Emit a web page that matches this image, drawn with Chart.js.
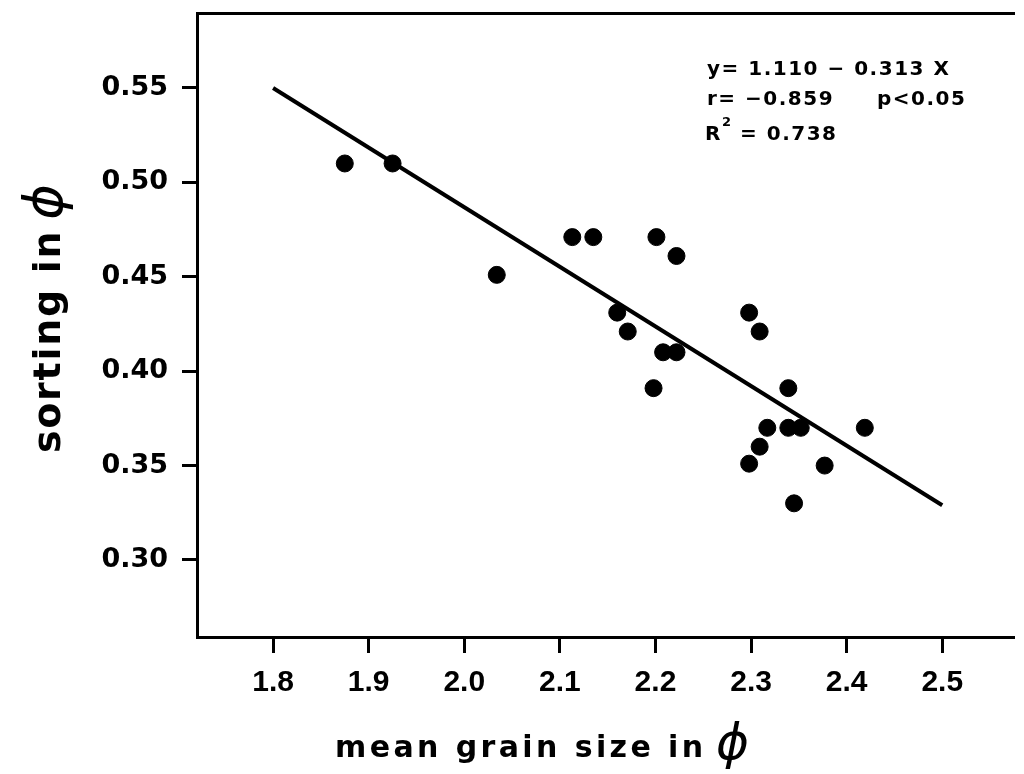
<!DOCTYPE html>
<html>
<head>
<meta charset="utf-8">
<script src="https://cdn.jsdelivr.net/npm/chart.js@4"></script>
<style>
    html, body { margin: 0; padding: 0; background: #fff; }
    #wrap { width: 1024px; height: 774px; }
</style>
</head>
<body>
<div id="wrap"><canvas id="canvas"></canvas></div>
<script>
// mean grain size (phi) and sorting (phi)
var grainSize = [1.875, 1.925, 2.034, 2.113, 2.135, 2.201, 2.222, 2.160, 2.171, 2.208,
    2.222, 2.198, 2.298, 2.309, 2.339, 2.317, 2.339, 2.352, 2.419, 2.309, 2.298, 2.377, 2.345];
var sorting = [0.510, 0.510, 0.451, 0.471, 0.471, 0.471, 0.461, 0.431, 0.421, 0.410,
    0.410, 0.391, 0.431, 0.421, 0.391, 0.370, 0.370, 0.370, 0.370, 0.360, 0.351, 0.350, 0.330];
// regression line end points
var fitX = [1.8, 2.5];
var fitY = [0.550, 0.329];
var xTicks = [1.8, 1.9, 2.0, 2.1, 2.2, 2.3, 2.4, 2.5];
var yTicks = [0.30, 0.35, 0.40, 0.45, 0.50, 0.55];
var xTitle = 'mean grain size in';
var yTitle = 'sorting in';
var phi = '\u03d5';
var statLines = ['y= 1.110 \u2212 0.313 X', 'r= \u22120.859', 'p<0.05', '0.738'];

var points = grainSize.map(function (x, i) { return {x: x, y: sorting[i]}; });
var fitLine = fitX.map(function (x, i) { return {x: x, y: fitY[i]}; });

// axis titles and regression stats, drawn by hand for the spaced lettering
var textPlugin = {
    id: 'texts',
    afterDraw: function (chart) {
        var ctx = chart.ctx;
        ctx.save();
        ctx.fillStyle = '#000';
        ctx.textBaseline = 'alphabetic';

        ctx.letterSpacing = '1.5px';
        ctx.font = 'bold 20px "DejaVu Sans"';
        ctx.fillText(statLines[0], 707, 75);
        ctx.fillText(statLines[1], 707, 105);
        ctx.fillText(statLines[2], 877, 105);
        ctx.fillText('R', 705, 140);
        ctx.fillText('= ' + statLines[3], 740, 140);
        ctx.font = 'bold 13px "DejaVu Sans"';
        ctx.fillText('2', 722, 126);

        ctx.letterSpacing = '3.4px';
        ctx.font = 'bold 30px "DejaVu Sans"';
        ctx.fillText(xTitle, 335, 757);
        ctx.letterSpacing = '0px';
        ctx.font = 'italic 50px "DejaVu Sans"';
        ctx.fillText(phi, 716, 759);

        ctx.translate(60, 453);
        ctx.rotate(-Math.PI / 2);
        ctx.letterSpacing = '1.7px';
        ctx.font = 'bold 38px "DejaVu Sans"';
        ctx.fillText(yTitle, 0, 0);
        var w = ctx.measureText(yTitle).width;
        ctx.letterSpacing = '0px';
        ctx.font = 'italic 54px "DejaVu Sans"';
        ctx.fillText(phi, w + 10, 2);
        ctx.restore();
    }
};

var ctx = document.getElementById('canvas').getContext('2d');
window.myChart = new Chart(ctx, {
    type: 'scatter',
    data: {
        datasets: [{
            label: 'samples',
            data: points,
            backgroundColor: '#000',
            borderColor: '#000',
            pointRadius: 8.5,
            pointHoverRadius: 8.5
        }, {
            type: 'line',
            label: 'fit',
            data: fitLine,
            borderColor: '#000',
            borderWidth: 4,
            pointRadius: 0,
            fill: false
        }]
    },
    options: {
        responsive: true,
        maintainAspectRatio: false,
        animation: false,
        layout: { padding: 0 },
        plugins: {
            legend: { display: false },
            tooltip: { enabled: false }
        },
        scales: {
            x: {
                type: 'linear',
                min: 1.7204,
                max: 2.5756,
                afterBuildTicks: function (scale) {
                    scale.ticks = xTicks.map(function (v) { return {value: v}; });
                },
                afterFit: function (scale) {
                    scale.height = 137;
                    scale.paddingLeft = 0;
                    scale.paddingRight = 0;
                },
                border: { display: true, color: '#000', width: 3 },
                grid: { display: true, drawOnChartArea: false, drawTicks: true,
                    tickLength: 16, tickWidth: 3, tickColor: '#000' },
                ticks: {
                    color: '#000',
                    padding: 12,
                    maxRotation: 0,
                    font: { family: '"Liberation Sans Narrow", "Liberation Sans"', weight: 'bold', size: 30 },
                    callback: function (v) { return v.toFixed(1); }
                }
            },
            x2: {
                type: 'linear',
                position: 'top',
                min: 1.7204,
                max: 2.5756,
                afterFit: function (scale) { scale.height = 13; },
                border: { display: true, color: '#000', width: 3 },
                grid: { display: false },
                ticks: { display: false }
            },
            y: {
                type: 'linear',
                min: 0.2592,
                max: 0.5897,
                afterBuildTicks: function (scale) {
                    scale.ticks = yTicks.map(function (v) { return {value: v}; });
                },
                afterFit: function (scale) {
                    scale.width = 197;
                    scale.paddingTop = 0;
                    scale.paddingBottom = 0;
                },
                border: { display: true, color: '#000', width: 3 },
                grid: { display: true, drawOnChartArea: false, drawTicks: true,
                    tickLength: 15, tickWidth: 3, tickColor: '#000' },
                ticks: {
                    color: '#000',
                    padding: 14,
                    font: { family: 'DejaVu Sans', weight: 'bold', size: 27 },
                    callback: function (v) { return v.toFixed(2); }
                }
            }
        }
    },
    plugins: [textPlugin]
});
</script>
</body>
</html>
